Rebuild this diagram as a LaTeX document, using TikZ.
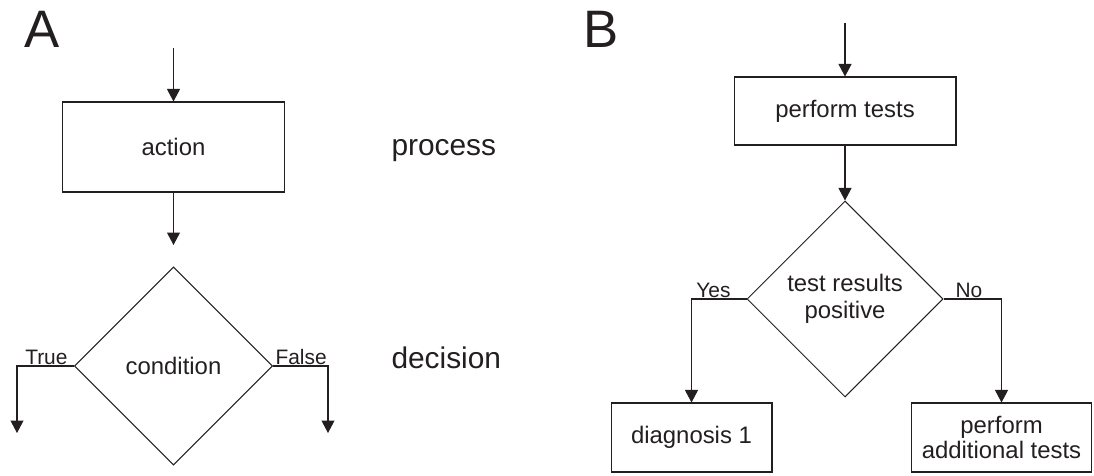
\documentclass[tikz,border=0pt]{standalone}
\usepackage{fontspec}
\setmainfont{Liberation Sans}
\usepackage{tikz}
\usetikzlibrary{shapes, arrows.meta}
\definecolor{ink}{RGB}{35,31,32}

\begin{document}
\begin{tikzpicture}[x=0.02cm, y=-0.02cm, color=ink, line width=0.6pt, >={Triangle[length=0.25cm, width=0.26cm]},
    box/.style={rectangle, draw, inner sep=0pt, align=center, font=\fontsize{13.6}{15.3}\selectfont},
    cond/.style={diamond, draw, inner sep=0pt, align=center, font=\fontsize{13.6}{15.3}\selectfont},
    lbl/.style={inner sep=0pt, font=\fontsize{11.9}{14}\selectfont},
    kind/.style={inner sep=0pt, anchor=base west, font=\fontsize{17}{20}\selectfont},
    panel/.style={inner sep=0pt, anchor=base west, font=\fontsize{30}{36}\selectfont}]
        \useasboundingbox (0,0) rectangle (1094,476);
        \node[panel] (A) at (24,48) {A};
        \node[box, minimum width=4.44cm, minimum height=1.8cm] (action) at (173.5,147) {action};
        \node[cond, minimum size=3.96cm] (condition) at (173.5,366) {condition};
        \node[kind] (process) at (391,155) {process};
        \node[kind] (decision) at (391,368) {decision};
        \node[lbl, anchor=base east] (true) at (68,364) {True};
        \node[lbl, anchor=base west] (false) at (275,364) {False};
        \coordinate (inA) at (173.5,48);
        \coordinate (outA) at (173.5,245);
        \coordinate (trueEnd) at (17,433);
        \coordinate (falseEnd) at (328,433);
        \draw[->] (inA) -- (action.north);
        \draw[->] (action.south) -- (outA);
        \draw[->] (condition.west) -| (trueEnd);
        \draw[->] (condition.east) -| (falseEnd);

        \node[panel] (B) at (583,48) {B};
        \node[box, minimum width=4.44cm, minimum height=1.36cm] (tests) at (845,111) {perform tests};
        \node[cond, minimum size=3.92cm] (result) at (845,299) {test results\\positive};
        \node[box, minimum width=3.22cm, minimum height=1.38cm] (diag) at (691.5,437.5) {diagnosis 1};
        \node[box, minimum width=3.6cm, minimum height=1.38cm, font=\fontsize{13.6}{14.2}\selectfont] (more) at (1001.5,437.5) {perform\\additional tests};
        \node[lbl, anchor=base east] (yes) at (731,297) {Yes};
        \node[lbl, anchor=base west] (no) at (955,297) {No};
        \coordinate (inB) at (845,23);
        \draw[->] (inB) -- (tests.north);
        \draw[->] (tests.south) -- (result.north);
        \draw[->] (result.west) -| (diag.north);
        \draw[->] (result.east) -| (more.north);
    \end{tikzpicture}
\end{document}
